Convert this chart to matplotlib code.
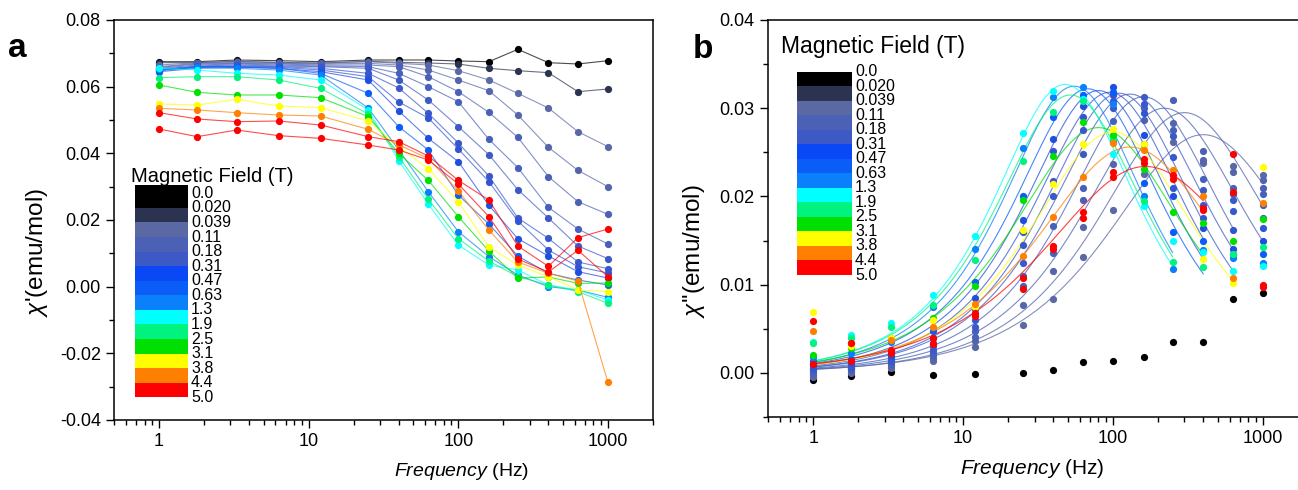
import numpy as np
import matplotlib

matplotlib.use("Agg")
import matplotlib.pyplot as plt
from matplotlib.patches import Rectangle
from matplotlib.ticker import FixedLocator, FuncFormatter, LogLocator, MultipleLocator, NullFormatter

plt.rcParams["font.family"] = ["Liberation Sans", "DejaVu Sans"]
plt.rcParams["mathtext.fontset"] = "custom"
plt.rcParams["mathtext.rm"] = "Liberation Sans"
plt.rcParams["mathtext.it"] = "Liberation Sans:italic"
plt.rcParams["axes.unicode_minus"] = False

W, H = 1298, 490

# frequencies (Hz)
freq = [1, 1.8, 3.3, 6.3, 12, 25, 40, 63, 100, 160, 250, 400, 630, 1000]

# legend of the colour map
legend_labels = ["0.0", "0.020", "0.039", "0.11", "0.18", "0.31", "0.47", "0.63",
                 "1.3", "1.9", "2.5", "3.1", "3.8", "4.4", "5.0"]
legend_colors = ["#000000", "#2b3350", "#5a69a3", "#4b61b6", "#3d59c6", "#0a47f5",
                 "#0a5ef7", "#0a80fa", "#00ffff", "#00f27f", "#00e000", "#ffff00",
                 "#ff8000", "#ff0000"]

# colour of every measured series (low field -> high field)
series_colors = ["#000000", "#2b3350", "#5a69a3", "#5565ab", "#4b61b6", "#4660bc",
                 "#3d59c6", "#3a58cc", "#3355d2", "#1f4fe0", "#0a5ef7", "#0a80fa",
                 "#00ffff", "#00f27f", "#00e000", "#ffff00", "#ff8000", "#ff0000",
                 "#ff0000"]

# chi' (emu/mol), panel a
chi1_s01 = [0.0675, 0.0675, 0.0680, 0.0678, 0.0675, 0.0680, 0.0680, 0.0680, 0.0677, 0.0675, 0.0712, 0.0672, 0.0668, 0.0678]
chi1_s02 = [0.0672, 0.0672, 0.0676, 0.0673, 0.0671, 0.0676, 0.0673, 0.0671, 0.0668, 0.0655, 0.0648, 0.0642, 0.0585, 0.0593]
chi1_s03 = [0.0665, 0.0672, 0.0675, 0.0672, 0.0670, 0.0675, 0.0670, 0.0665, 0.0648, 0.0620, 0.0580, 0.0536, 0.0465, 0.0420]
chi1_s04 = [0.0660, 0.0670, 0.0672, 0.0670, 0.0668, 0.0670, 0.0665, 0.0650, 0.0620, 0.0588, 0.0515, 0.0418, 0.0349, 0.0300]
chi1_s05 = [0.0658, 0.0668, 0.0670, 0.0668, 0.0665, 0.0665, 0.0660, 0.0630, 0.0585, 0.0523, 0.0448, 0.0330, 0.0255, 0.0217]
chi1_s06 = [0.0655, 0.0665, 0.0668, 0.0665, 0.0662, 0.0660, 0.0640, 0.0600, 0.0555, 0.0442, 0.0357, 0.0238, 0.0173, 0.0128]
chi1_s07 = [0.0652, 0.0662, 0.0665, 0.0662, 0.0660, 0.0655, 0.0620, 0.0560, 0.0480, 0.0396, 0.0291, 0.0206, 0.0122, 0.0084]
chi1_s08 = [0.0650, 0.0660, 0.0662, 0.0660, 0.0655, 0.0640, 0.0596, 0.0520, 0.0431, 0.0332, 0.0206, 0.0145, 0.0074, 0.0054]
chi1_s09 = [0.0648, 0.0658, 0.0660, 0.0658, 0.0650, 0.0630, 0.0554, 0.0506, 0.0413, 0.0315, 0.0197, 0.0110, 0.0060, 0.0041]
chi1_s10 = [0.0645, 0.0655, 0.0658, 0.0655, 0.0645, 0.0620, 0.0527, 0.0445, 0.0375, 0.0244, 0.0144, 0.0092, 0.0045, 0.0026]
chi1_s11 = [0.0650, 0.0660, 0.0660, 0.0655, 0.0640, 0.0580, 0.0480, 0.0410, 0.0275, 0.0188, 0.0092, 0.0040, 0.0020, 0.0005]
chi1_s12 = [0.0652, 0.0658, 0.0655, 0.0650, 0.0635, 0.0536, 0.0410, 0.0285, 0.0165, 0.0090, 0.0035, 0.0000, -0.0010, -0.0032]
chi1_s13 = [0.0655, 0.0650, 0.0640, 0.0635, 0.0620, 0.0530, 0.0378, 0.0248, 0.0125, 0.0065, 0.0050, 0.0005, -0.0010, -0.0040]
chi1_s14 = [0.0627, 0.0630, 0.0630, 0.0620, 0.0595, 0.0518, 0.0390, 0.0263, 0.0144, 0.0077, 0.0030, 0.0005, -0.0015, -0.0050]
chi1_s15 = [0.0605, 0.0583, 0.0575, 0.0575, 0.0567, 0.0510, 0.0400, 0.0319, 0.0210, 0.0107, 0.0026, 0.0029, 0.0010, 0.0011]
chi1_s16 = [0.0548, 0.0545, 0.0562, 0.0542, 0.0537, 0.0497, 0.0420, 0.0354, 0.0255, 0.0119, 0.0065, 0.0030, -0.0010, -0.0015]
chi1_s17 = [0.0535, 0.0530, 0.0522, 0.0515, 0.0512, 0.0472, 0.0425, 0.0385, 0.0287, 0.0170, 0.0074, 0.0040, 0.0017, -0.0287]
chi1_s18 = [0.0522, 0.0503, 0.0495, 0.0497, 0.0485, 0.0450, 0.0435, 0.0392, 0.0319, 0.0260, 0.0122, 0.0061, 0.0147, 0.0173]
chi1_s19 = [0.0473, 0.0450, 0.0470, 0.0453, 0.0445, 0.0425, 0.0410, 0.0380, 0.0308, 0.0210, 0.0083, 0.0044, 0.0109, 0.0030]

# chi'' (emu/mol), panel b (series 2 not shown)
chi2_s01 = [-0.0008, -0.0004, 0.0001, -0.0002, -0.0001, 0.0000, 0.0003, 0.0012, 0.0013, 0.0018, 0.0035, 0.0035, 0.0084, 0.0091]
chi2_s02 = None
chi2_s03 = [-0.0005, 0.0000, 0.0006, 0.0014, 0.0029, 0.0054, 0.0084, 0.0131, 0.0185, 0.0225, 0.0262, 0.0238, 0.0234, 0.0224]
chi2_s04 = [-0.0002, 0.0002, 0.0008, 0.0017, 0.0036, 0.0077, 0.0116, 0.0165, 0.0237, 0.0260, 0.0283, 0.0241, 0.0228, 0.0219]
chi2_s05 = [0.0000, 0.0004, 0.0010, 0.0020, 0.0041, 0.0098, 0.0136, 0.0196, 0.0262, 0.0287, 0.0309, 0.0251, 0.0210, 0.0210]
chi2_s06 = [0.0002, 0.0005, 0.0012, 0.0023, 0.0047, 0.0110, 0.0166, 0.0210, 0.0286, 0.0300, 0.0275, 0.0220, 0.0203, 0.0203]
chi2_s07 = [0.0004, 0.0006, 0.0014, 0.0026, 0.0052, 0.0125, 0.0200, 0.0248, 0.0300, 0.0313, 0.0268, 0.0207, 0.0196, 0.0190]
chi2_s08 = [0.0006, 0.0008, 0.0016, 0.0030, 0.0060, 0.0145, 0.0217, 0.0275, 0.0308, 0.0305, 0.0245, 0.0190, 0.0184, 0.0175]
chi2_s09 = [0.0008, 0.0010, 0.0018, 0.0034, 0.0072, 0.0160, 0.0251, 0.0290, 0.0315, 0.0295, 0.0210, 0.0175, 0.0162, 0.0164]
chi2_s10 = [0.0010, 0.0012, 0.0020, 0.0040, 0.0085, 0.0173, 0.0265, 0.0302, 0.0324, 0.0270, 0.0200, 0.0164, 0.0140, 0.0150]
chi2_s11 = [0.0014, 0.0016, 0.0024, 0.0048, 0.0103, 0.0200, 0.0290, 0.0315, 0.0318, 0.0215, 0.0160, 0.0150, 0.0135, 0.0135]
chi2_s12 = [0.0018, 0.0022, 0.0035, 0.0075, 0.0140, 0.0255, 0.0313, 0.0324, 0.0305, 0.0200, 0.0118, 0.0139, 0.0130, 0.0125]
chi2_s13 = [0.0035, 0.0043, 0.0056, 0.0088, 0.0155, 0.0272, 0.0320, 0.0310, 0.0248, 0.0189, 0.0149, 0.0137, 0.0116, 0.0121]
chi2_s14 = [0.0034, 0.0040, 0.0052, 0.0077, 0.0128, 0.0240, 0.0296, 0.0308, 0.0265, 0.0195, 0.0126, 0.0120, 0.0135, 0.0143]
chi2_s15 = [0.0020, 0.0028, 0.0040, 0.0062, 0.0098, 0.0196, 0.0246, 0.0284, 0.0270, 0.0231, 0.0182, 0.0170, 0.0149, 0.0174]
chi2_s16 = [0.0069, 0.0030, 0.0040, 0.0060, 0.0075, 0.0162, 0.0214, 0.0259, 0.0277, 0.0260, 0.0230, 0.0129, 0.0102, 0.0233]
chi2_s17 = [0.0048, 0.0034, 0.0037, 0.0052, 0.0078, 0.0132, 0.0177, 0.0222, 0.0261, 0.0253, 0.0230, 0.0200, 0.0108, 0.0193]
chi2_s18 = [0.0059, 0.0034, 0.0026, 0.0033, 0.0068, 0.0107, 0.0144, 0.0182, 0.0228, 0.0242, 0.0224, 0.0187, 0.0248, 0.0097]
chi2_s19 = [0.0010, 0.0014, 0.0022, 0.0040, 0.0064, 0.0095, 0.0140, 0.0175, 0.0222, 0.0238, 0.0220, 0.0185, 0.0205, 0.0100]

# generalised Debye fits of chi'' (peak height, peak frequency, alpha, last fitted frequency)
fit_peak = [None, None, 0.0270, 0.0295, 0.0300, 0.0313, 0.0316, 0.0317, 0.0318, 0.0320, 0.0322,
            0.0325, 0.0327, 0.0315, 0.0278, 0.0273, 0.0256, 0.0234, None]
fit_f0 = [None, None, 400, 300, 220, 160, 130, 110, 95, 80, 68, 55, 48, 52, 80, 100, 130, 165, None]
fit_alpha = [None, None, 0.15, 0.10, 0.08, 0.05, 0.05, 0.03, 0.03, 0.02, 0.02, 0.0, 0.0, 0.02,
             0.10, 0.08, 0.15, 0.20, None]
fit_fmax = [None, None, 1000, 1000, 1000, 630, 630, 630, 400, 400, 400, 250, 250, 250, 400, 630,
            400, 400, None]

chi1_series = [chi1_s01, chi1_s02, chi1_s03, chi1_s04, chi1_s05, chi1_s06, chi1_s07, chi1_s08,
               chi1_s09, chi1_s10, chi1_s11, chi1_s12, chi1_s13, chi1_s14, chi1_s15, chi1_s16,
               chi1_s17, chi1_s18, chi1_s19]
chi2_series = [chi2_s01, chi2_s02, chi2_s03, chi2_s04, chi2_s05, chi2_s06, chi2_s07, chi2_s08,
               chi2_s09, chi2_s10, chi2_s11, chi2_s12, chi2_s13, chi2_s14, chi2_s15, chi2_s16,
               chi2_s17, chi2_s18, chi2_s19]


def debye_chi2(f, peak, f0, alpha):
    s = np.sin(alpha * np.pi / 2)
    c = np.cos(alpha * np.pi / 2)
    dchi = peak * 2 * (1 + s) / c
    u = (f / f0) ** (1 - alpha)
    return dchi * u * c / (1 + 2 * u * s + u ** 2)


def fx(x):
    return x / W


def fy(y):
    return 1 - y / H


def field_legend(fig, title_x, title_y, x0, x1, y_first, y_last, extend_top, title_size):
    step = (y_last - y_first) / (len(legend_labels) - 1)
    fig.text(fx(title_x), fy(title_y), "Magnetic Field (T)", fontsize=title_size,
             ha="left", va="center")
    for i, col in enumerate(legend_colors):
        top = y_first + i * step
        if i == 0:
            top -= extend_top
        bot = y_first + (i + 1) * step
        fig.add_artist(Rectangle((fx(x0), fy(bot)), fx(x1) - fx(x0), fy(top) - fy(bot),
                                 transform=fig.transFigure, facecolor=col, edgecolor="none"))
    for i, lab in enumerate(legend_labels):
        fig.text(fx(x1 + 3), fy(y_first + i * step), lab, fontsize=11.5,
                 ha="left", va="center")


def style_axis(ax, xlabel_x, xlabel_y, xlabel_size):
    ax.set_xscale("log")
    ax.set_xlim(0.5, 2000)
    ax.xaxis.set_major_locator(FixedLocator([1, 10, 100, 1000]))
    ax.xaxis.set_major_formatter(FuncFormatter(lambda v, p: "%g" % v))
    ax.xaxis.set_minor_locator(LogLocator(base=10, subs=np.arange(2, 10), numticks=20))
    ax.xaxis.set_minor_formatter(NullFormatter())
    ax.tick_params(which="major", direction="out", length=6, width=1.0, labelsize=13,
                   top=False, right=False)
    ax.tick_params(which="minor", direction="out", length=3.5, width=1.0,
                   top=False, right=False)
    for sp in ax.spines.values():
        sp.set_linewidth(1.1)
    ax.set_xlabel(r"$\it{Frequency}$ (Hz)", fontsize=xlabel_size)
    ax.xaxis.set_label_coords(xlabel_x, xlabel_y)


fig = plt.figure(figsize=(W / 100, H / 100), dpi=100)

# panel a: chi'
ax1 = fig.add_axes([fx(114), fy(420), fx(653) - fx(114), fy(20) - fy(420)])
for vals, col in zip(chi1_series, series_colors):
    ax1.plot(freq, vals, "-", color=col, lw=0.8, alpha=0.7)
    ax1.plot(freq, vals, "o", color=col, ms=5.2, mew=0)
ax1.set_ylim(-0.04, 0.08)
ax1.yaxis.set_major_locator(MultipleLocator(0.02))
ax1.yaxis.set_minor_locator(MultipleLocator(0.01))
ax1.yaxis.set_major_formatter(FuncFormatter(lambda v, p: "%.2f" % v))
style_axis(ax1, (462 - 114) / 539, (420 - 461) / 400, 14)
ax1.set_ylabel(r"$\chi$'(emu/mol)", fontsize=17.5)
ax1.yaxis.set_label_coords((50 - 114) / 539, (420 - 252) / 400)

# panel b: chi''
ax2 = fig.add_axes([fx(768), fy(417), fx(1308) - fx(768), fy(20) - fy(417)])
for k, col in enumerate(series_colors):
    if fit_peak[k] is None:
        continue
    ff = np.logspace(0, np.log10(fit_fmax[k]), 200)
    ax2.plot(ff, debye_chi2(ff, fit_peak[k], fit_f0[k], fit_alpha[k]), "-", color=col,
             lw=0.8, alpha=0.75)
for vals, col in zip(chi2_series, series_colors):
    if vals is None:
        continue
    ax2.plot(freq, vals, "o", color=col, ms=5.2, mew=0)
ax2.set_ylim(-0.005, 0.04)
ax2.yaxis.set_major_locator(MultipleLocator(0.01))
ax2.yaxis.set_minor_locator(MultipleLocator(0.005))
ax2.yaxis.set_major_formatter(FuncFormatter(lambda v, p: "%.2f" % v))
style_axis(ax2, (1032 - 768) / 540, (417 - 457) / 397, 15)
ax2.set_ylabel(r"$\chi$''(emu/mol)", fontsize=17.5)
ax2.yaxis.set_label_coords((707 - 768) / 540, (417 - 251) / 397)

field_legend(fig, 131, 177, 135, 188, 193.3, 397.3, 8.5, 14.5)
field_legend(fig, 781, 47, 797, 852, 71.7, 275.0, 0, 16.5)

fig.text(fx(8), fy(57), "a", fontsize=24, fontweight="bold", ha="left", va="baseline")
fig.text(fx(693), fy(58), "b", fontsize=24, fontweight="bold", ha="left", va="baseline")

fig.savefig("out.png", dpi=100)
